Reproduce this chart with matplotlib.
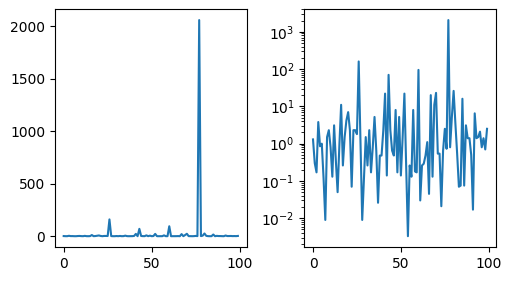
import numpy as np
import matplotlib
matplotlib.use("Agg")
import matplotlib.pyplot as plt

# values, index 0..99
values = [
    1.3, 0.3, 0.17, 3.8, 0.85, 1.0, 0.12, 0.009, 1.5, 2.3,
    0.8, 0.13, 3.1, 0.35, 0.05, 0.9, 11, 0.26, 1.5, 4.2,
    7, 2.3, 0.07, 2.3, 2.3, 1.8, 160, 1.2, 0.009, 0.12,
    1.5, 0.26, 2.3, 0.17, 0.8, 5.2, 0.65, 0.026, 0.48, 0.48,
    2.3, 22, 0.14, 70, 2.3, 0.65, 0.48, 8, 0.17, 5.2,
    0.14, 1.5, 22, 0.25, 0.0033, 0.26, 0.13, 8, 0.18, 0.17,
    95, 0.03, 0.26, 0.29, 0.48, 1.1, 0.045, 20, 0.13, 11,
    23, 0.54, 0.54, 0.021, 0.65, 2.5, 0.73, 2060, 0.8, 5.2,
    26, 3.5, 0.54, 0.07, 0.075, 16, 0.075, 3.1, 1.4, 1.4,
    0.5, 0.017, 6.5, 1.4, 1.5, 2.1, 0.8, 1.4, 0.7, 2.5,
]
x = np.arange(len(values))

fig = plt.figure(figsize=(5.11, 2.81), dpi=100)
ax1 = fig.add_axes([0.1076, 0.121, 0.375, 0.846])
ax2 = fig.add_axes([0.5955, 0.121, 0.3746, 0.846])

ax1.plot(x, values)
ax2.plot(x, values)
ax2.set_yscale("log")

fig.savefig("out.png", dpi=100)
